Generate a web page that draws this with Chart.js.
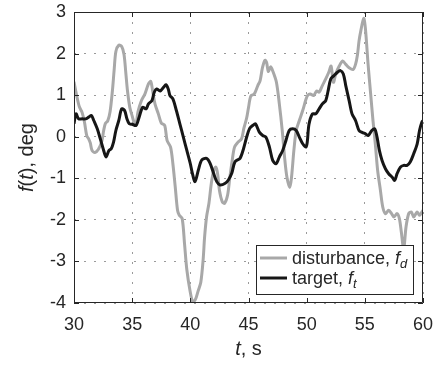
<!DOCTYPE html>
<html>
<head>
<meta charset="utf-8">
<script src="https://cdn.jsdelivr.net/npm/chart.js@4.4.1/dist/chart.umd.min.js"></script>
<style>
  html, body { margin: 0; padding: 0; background: #fff; }
  #wrap { width: 440px; height: 369px; }
</style>
</head>
<body>
<div id="wrap"><canvas id="trackChart" width="440" height="369"></canvas></div>
<script>
// disturbance signal f_d (grey)
const tDisturbance = [30.0, 30.26, 30.46, 30.7, 30.9, 31.1, 31.26, 31.4, 31.55, 31.8, 32.1, 32.4, 32.55, 32.7, 32.9,
    33.1, 33.3, 33.45, 33.6, 33.85, 34.1, 34.3, 34.45, 34.6, 34.8, 35.0, 35.15, 35.33, 35.5, 35.8, 36.1, 36.4, 36.6,
    36.76, 36.96, 37.25, 37.5, 37.8, 38.0, 38.3, 38.5, 38.7, 38.9, 39.05, 39.3, 39.5, 39.7, 39.97, 40.2, 40.43, 40.66,
    40.9, 41.1, 41.23, 41.4, 41.6, 41.8, 42.0, 42.2, 42.35, 42.5, 42.75, 42.95, 43.2, 43.4, 43.6, 43.8, 44.1, 44.4,
    44.6, 44.84, 45.0, 45.2, 45.5, 45.8, 46.0, 46.2, 46.42, 46.56, 46.7, 46.9, 47.1, 47.4, 47.65, 47.9, 48.1, 48.3,
    48.55, 48.7, 48.9, 49.1, 49.37, 49.66, 49.94, 50.1, 50.3, 50.6, 50.86, 51.07, 51.35, 51.64, 51.9, 52.1, 52.3,
    52.5, 52.8, 53.1, 53.36, 53.65, 54.0, 54.2, 54.37, 54.5, 54.65, 54.9, 55.05, 55.28, 55.5, 55.7, 55.9, 56.1,
    56.34, 56.54, 56.77, 57.05, 57.3, 57.5, 57.77, 57.97, 58.14, 58.34, 58.54, 58.77, 59.0, 59.2, 59.5, 59.7, 60.0];
const disturbance = [1.32, 0.95, 0.72, 0.58, 0.35, 0.02, -0.05, -0.15, -0.33, -0.38, -0.3, -0.1, 0.15, 0.32, 0.38,
    0.6, 1.1, 1.6, 2.05, 2.2, 2.17, 1.98, 1.55, 1.1, 0.7, 0.5, 0.36, 0.31, 0.6, 0.87, 1.03, 1.27, 1.33,
    1.1, 0.79, 0.55, 0.33, 0.27, -0.09, -0.25, -0.65, -1.2, -1.77, -1.89, -1.97, -2.57, -3.2, -3.7, -3.97, -3.92, -3.72,
    -3.5, -2.96, -2.4, -1.92, -1.6, -1.13, -0.82, -0.73, -0.9, -1.29, -1.57, -1.6, -1.41, -0.97, -0.57, -0.25, -0.13, -0.05,
    0.2, 0.45, 0.7, 0.98, 1.03, 1.23, 1.35, 1.66, 1.84, 1.78, 1.57, 1.68, 1.57, 1.31, 0.79, 0.15, -0.49, -0.97,
    -1.22, -0.97, -0.33, 0.15, 0.39, 0.63, 0.9, 1.0, 1.03, 0.99, 1.1, 1.07, 1.23, 1.39, 1.55, 1.7, 1.31,
    1.51, 1.7, 1.82, 1.74, 1.66, 1.62, 1.74, 1.98, 2.3, 2.54, 2.85, 2.6, 1.74, 1.03, 0.39, -0.17, -0.81,
    -1.29, -1.69, -1.85, -1.77, -1.85, -1.93, -1.85, -1.97, -2.3, -2.7, -2.17, -1.85, -1.81, -1.93, -1.81, -1.89, -1.77];

// target signal f_t (black)
const tTarget = [30.0, 30.17, 30.4, 30.7, 31.0, 31.26, 31.5, 31.7, 32.0, 32.26, 32.55, 32.75, 33.0, 33.2, 33.4,
    33.6, 33.85, 34.1, 34.35, 34.55, 34.75, 35.0, 35.33, 35.6, 35.9, 36.2, 36.4, 36.7, 36.9, 37.1, 37.4, 37.7, 37.9,
    38.1, 38.25, 38.5, 38.8, 39.1, 39.4, 39.7, 40.0, 40.15, 40.4, 40.69, 40.98, 41.4, 41.7, 42.0, 42.27, 42.55, 43.0,
    43.27, 43.56, 43.84, 44.27, 44.56, 44.85, 45.1, 45.36, 45.6, 45.93, 46.22, 46.5, 46.8, 47.08, 47.37, 47.65, 47.94,
    48.22, 48.5, 48.8, 49.1, 49.37, 49.66, 49.94, 50.05, 50.2, 50.5, 50.78, 51.07, 51.35, 51.64, 51.84, 52.07, 52.35,
    52.65, 52.9, 53.15, 53.36, 53.65, 53.9, 54.2, 54.5, 54.8, 55.05, 55.3, 55.6, 55.85, 56.05, 56.25, 56.48, 56.77,
    57.05, 57.34, 57.57, 57.77, 58.06, 58.34, 58.63, 58.9, 59.2, 59.5, 59.7, 59.9, 60.0];
const target = [0.31, 0.55, 0.43, 0.43, 0.43, 0.47, 0.51, 0.39, 0.19, -0.05, -0.33, -0.49, -0.33, -0.29, -0.13,
    0.15, 0.39, 0.67, 0.63, 0.43, 0.31, 0.3, 0.27, 0.47, 0.71, 0.67, 0.79, 0.87, 1.07, 1.15, 1.1, 1.19, 1.25,
    1.15, 0.99, 0.91, 0.63, 0.31, -0.01, -0.33, -0.65, -0.85, -1.08, -0.8, -0.56, -0.52, -0.64, -0.88, -1.08, -1.16, -1.12,
    -1.04, -0.88, -0.6, -0.52, -0.3, 0.0, 0.2, 0.27, 0.31, 0.11, 0.03, -0.01, -0.25, -0.57, -0.65, -0.49, -0.33,
    -0.09, 0.15, 0.19, 0.15, -0.01, -0.17, -0.25, -0.13, 0.3, 0.55, 0.55, 0.67, 0.79, 0.87, 1.1, 1.39, 1.47,
    1.55, 1.59, 1.51, 1.23, 0.87, 0.55, 0.39, 0.15, 0.1, 0.07, 0.03, 0.15, 0.19, -0.01, -0.33, -0.57, -0.77,
    -0.89, -0.97, -1.05, -0.89, -0.73, -0.69, -0.69, -0.61, -0.41, -0.17, 0.15, 0.35, 0.39];

const xTicks = [30, 35, 40, 45, 50, 55, 60];
const yTicks = [-4, -3, -2, -1, 0, 1, 2, 3];

const FONT = '"Liberation Sans", Arial, Helvetica, sans-serif';
const INK = '#262626';
const GREY = '#a8a8a8';
const BLACK = '#161616';

const toPoints = (ts, vs) => ts.map((t, i) => ({ x: t, y: vs[i] }));

// draws a run of [text, style] pieces, style: 'n' normal, 'i' italic, 's' italic subscript
function drawPieces(ctx, pieces, x, y, size) {
    let cx = x;
    pieces.forEach(([txt, st]) => {
        const sz = st === 's' ? Math.round(size * 0.72) : size;
        ctx.font = (st === 'n' ? '' : 'italic ') + sz + 'px ' + FONT;
        ctx.fillText(txt, cx, st === 's' ? y + size * 0.22 : y);
        cx += ctx.measureText(txt).width;
    });
    return cx - x;
}

function piecesWidth(ctx, pieces, size) {
    let w = 0;
    pieces.forEach(([txt, st]) => {
        const sz = st === 's' ? Math.round(size * 0.72) : size;
        ctx.font = (st === 'n' ? '' : 'italic ') + sz + 'px ' + FONT;
        w += ctx.measureText(txt).width;
    });
    return w;
}

// box round the plot, inward ticks, axis titles and the legend
const framePlugin = {
    id: 'frame',
    afterDatasetsDraw(chart) {
        const { ctx, chartArea: a, scales } = chart;
        ctx.save();
        ctx.strokeStyle = INK;
        ctx.lineWidth = 1;
        ctx.beginPath();
        ctx.rect(a.left + 0.5, a.top + 0.5, a.right - a.left - 1, a.bottom - a.top - 1);
        ctx.stroke();

        const tl = 5;
        ctx.beginPath();
        xTicks.forEach((v) => {
            const px = Math.round(scales.x.getPixelForValue(v)) + 0.5;
            ctx.moveTo(px, a.bottom); ctx.lineTo(px, a.bottom - tl);
            ctx.moveTo(px, a.top); ctx.lineTo(px, a.top + tl);
        });
        yTicks.forEach((v) => {
            const py = Math.round(scales.y.getPixelForValue(v)) + 0.5;
            ctx.moveTo(a.left, py); ctx.lineTo(a.left + tl, py);
            ctx.moveTo(a.right, py); ctx.lineTo(a.right - tl, py);
        });
        ctx.stroke();

        // axis titles
        ctx.fillStyle = INK;
        ctx.textBaseline = 'alphabetic';
        ctx.textAlign = 'left';
        const tsz = 20;
        const xTitle = [['t', 'i'], [', s', 'n']];
        const xw = piecesWidth(ctx, xTitle, tsz);
        drawPieces(ctx, xTitle, (a.left + a.right) / 2 - xw / 2, 355, tsz);

        const yTitle = [['f', 'i'], ['(', 'n'], ['t', 'i'], ['), deg', 'n']];
        const yw = piecesWidth(ctx, yTitle, tsz);
        ctx.save();
        ctx.translate(33, (a.top + a.bottom) / 2);
        ctx.rotate(-Math.PI / 2);
        drawPieces(ctx, yTitle, -yw / 2, 0, tsz);
        ctx.restore();

        // legend
        const lx = 256, ly = 245, lw = 157, lh = 49;
        ctx.fillStyle = '#fff';
        ctx.fillRect(lx, ly, lw, lh);
        ctx.strokeStyle = INK;
        ctx.strokeRect(lx + 0.5, ly + 0.5, lw, lh);
        const rows = [
            { color: GREY, y: 258, pieces: [['disturbance, ', 'n'], ['f', 'i'], ['d', 's']] },
            { color: BLACK, y: 278, pieces: [['target, ', 'n'], ['f', 'i'], ['t', 's']] },
        ];
        rows.forEach((r) => {
            ctx.strokeStyle = r.color;
            ctx.lineWidth = 3;
            ctx.beginPath();
            ctx.moveTo(lx + 4, r.y); ctx.lineTo(lx + 31, r.y);
            ctx.stroke();
            ctx.fillStyle = INK;
            drawPieces(ctx, r.pieces, lx + 36, r.y + 6, 18);
        });
        ctx.restore();
    }
};

const ctx = document.getElementById('trackChart').getContext('2d');
new Chart(ctx, {
    type: 'line',
    data: {
        datasets: [
            {
                label: 'disturbance, f_d',
                data: toPoints(tDisturbance, disturbance),
                borderColor: GREY,
                borderWidth: 3,
                pointRadius: 0,
                tension: 0.3,
                order: 2,
            },
            {
                label: 'target, f_t',
                data: toPoints(tTarget, target),
                borderColor: BLACK,
                borderWidth: 3,
                pointRadius: 0,
                tension: 0.3,
                order: 1,
            },
        ],
    },
    options: {
        responsive: false,
        animation: false,
        events: [],
        layout: { padding: { top: 12, right: 17, left: 0, bottom: 0 } },
        plugins: {
            legend: { display: false },
            tooltip: { enabled: false },
        },
        scales: {
            x: {
                type: 'linear',
                min: 30,
                max: 60,
                afterFit: (s) => { s.height = 66; s.paddingLeft = 0; s.paddingRight = 0; },
                afterBuildTicks: (s) => { s.ticks = xTicks.map((v) => ({ value: v })); },
                ticks: {
                    autoSkip: false,
                    maxRotation: 0,
                    padding: 11,
                    color: INK,
                    font: { family: FONT, size: 18 },
                },
                grid: { color: '#9a9a9a', lineWidth: 1, drawTicks: false },
                border: { display: false, dash: [2, 8] },
            },
            y: {
                min: -4,
                max: 3,
                afterFit: (s) => { s.width = 74; s.paddingTop = 0; s.paddingBottom = 0; },
                afterBuildTicks: (s) => { s.ticks = yTicks.map((v) => ({ value: v })); },
                ticks: {
                    padding: 8,
                    color: INK,
                    font: { family: FONT, size: 18 },
                },
                grid: { color: '#9a9a9a', lineWidth: 1, drawTicks: false },
                border: { display: false, dash: [2, 8] },
            },
        },
    },
    plugins: [framePlugin],
});
</script>
</body>
</html>
